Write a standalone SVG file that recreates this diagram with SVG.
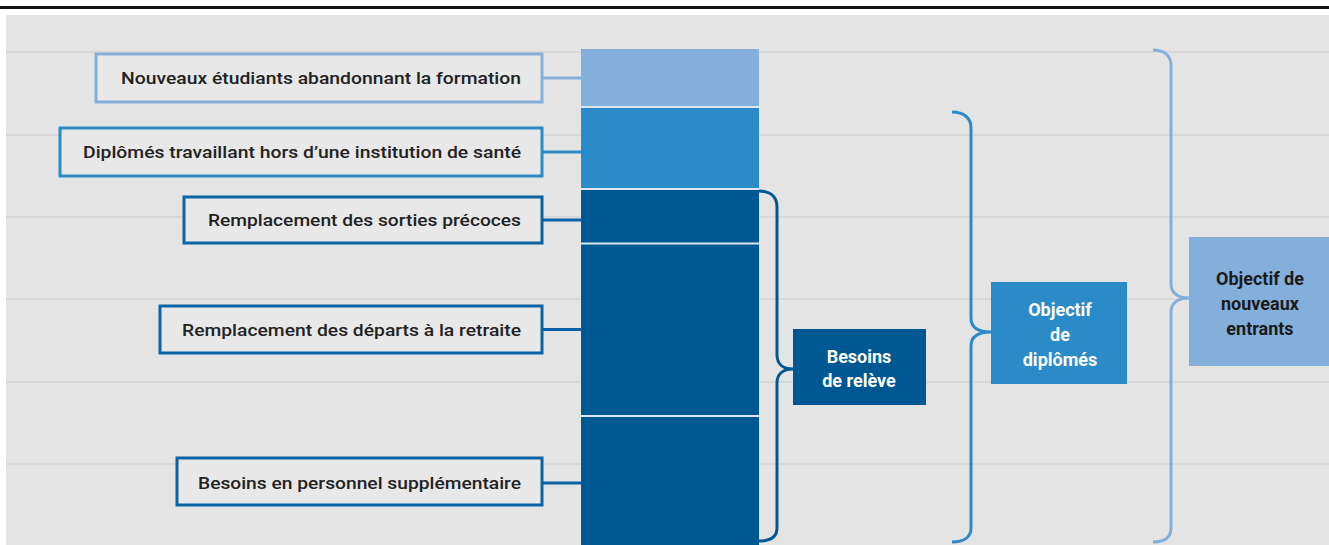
<svg xmlns="http://www.w3.org/2000/svg" width="1329" height="545" viewBox="0 0 1329 545">
<defs>
<style>
.grid{stroke:#d8d8d8;stroke-width:2;fill:none}
.lbl{fill:#e8e8e8;stroke-width:3}
.lt{font-family:Roboto,"Liberation Sans",sans-serif;font-size:17px;font-weight:500;fill:#222;text-anchor:end}
.rt{font-family:Roboto,"Liberation Sans",sans-serif;font-size:18px;font-weight:700;text-anchor:middle}
.con{fill:none;stroke-width:3}
.c1{stroke:#85afdb}
.c2{stroke:#2b8bc8}
.c3{stroke:#0a63a6}
.sep{stroke:#dde5ee;stroke-width:2}
</style>
</defs>
<rect x="0" y="0" width="1329" height="545" fill="#ffffff"/>
<rect x="0" y="6" width="1329" height="3" fill="#111111"/>
<rect x="6" y="15" width="1323" height="530" fill="#e4e4e4"/>
<g id="grid">
<line class="grid" x1="6" y1="52" x2="1329" y2="52"/>
<line class="grid" x1="6" y1="135" x2="1329" y2="135"/>
<line class="grid" x1="6" y1="217" x2="1329" y2="217"/>
<line class="grid" x1="6" y1="299" x2="1329" y2="299"/>
<line class="grid" x1="6" y1="382" x2="1329" y2="382"/>
<line class="grid" x1="6" y1="464" x2="1329" y2="464"/>
</g>
<g id="bar">
<rect x="581" y="49" width="178" height="58" fill="#85afdb"/>
<rect x="581" y="107" width="178" height="82" fill="#2b8bc8"/>
<rect x="581" y="189" width="178" height="356" fill="#005893"/>
<line class="sep" x1="581" y1="107" x2="759" y2="107"/>
<line class="sep" x1="581" y1="189" x2="759" y2="189"/>
<line class="sep" x1="581" y1="243.5" x2="759" y2="243.5"/>
<line class="sep" x1="581" y1="416" x2="759" y2="416"/>
</g>
<g id="connectors">
<line class="con c1" x1="542" y1="78" x2="581" y2="78"/>
<line class="con c2" x1="542" y1="152" x2="581" y2="152"/>
<line class="con c3" x1="542" y1="220" x2="581" y2="220"/>
<line class="con c3" x1="542" y1="329.5" x2="581" y2="329.5"/>
<line class="con c3" x1="542" y1="483" x2="581" y2="483"/>
<path class="con" stroke="#005893" d="M759,191 C771,191 777,197 777,207 L777,355 C777,364 783,369 793,369 C783,369 777,374 777,383 L777,528 C777,537 771,541 759,541"/>
<path class="con c2" d="M952,112 C964,112 971,118 971,128 L971,318 C971,327 978,332 991,332 C978,332 971,337 971,346 L971,528 C971,537 964,542 952,542"/>
<path class="con c1" d="M1153,50 C1165,50 1171,56 1171,66 L1171,284 C1171,293 1178,298 1189,298 C1178,298 1171,303 1171,312 L1171,528 C1171,537 1165,542 1153,542"/>
</g>
<g id="n-abandon">
<rect class="lbl c1" x="96" y="54" width="446" height="48"/>
<text class="lt" x="521" y="84" textLength="400" lengthAdjust="spacingAndGlyphs">Nouveaux étudiants abandonnant la formation</text>
</g>
<g id="n-hors">
<rect class="lbl c2" x="60" y="128" width="482" height="48"/>
<text class="lt" x="521" y="158" textLength="438" lengthAdjust="spacingAndGlyphs">Diplômés travaillant hors d’une institution de santé</text>
</g>
<g id="n-sorties">
<rect class="lbl c3" x="184" y="197" width="358" height="46"/>
<text class="lt" x="521" y="226" textLength="313" lengthAdjust="spacingAndGlyphs">Remplacement des sorties précoces</text>
</g>
<g id="n-retraite">
<rect class="lbl c3" x="160" y="306" width="382" height="47"/>
<text class="lt" x="521" y="335.5" textLength="339" lengthAdjust="spacingAndGlyphs">Remplacement des départs à la retraite</text>
</g>
<g id="n-supp">
<rect class="lbl c3" x="177" y="458" width="365" height="47"/>
<text class="lt" x="521" y="489" textLength="323" lengthAdjust="spacingAndGlyphs">Besoins en personnel supplémentaire</text>
</g>
<g id="n-releve">
<rect x="793" y="329" width="133" height="76" fill="#005893"/>
<text class="rt" fill="#ffffff"><tspan x="859" y="363">Besoins</tspan><tspan x="859" y="387">de relève</tspan></text>
</g>
<g id="n-diplomes">
<rect x="991" y="282" width="136" height="102" fill="#2b8bc8"/>
<text class="rt" fill="#ffffff"><tspan x="1060" y="315.5">Objectif</tspan><tspan x="1060" y="340.5">de</tspan><tspan x="1060" y="366">diplômés</tspan></text>
</g>
<g id="n-entrants">
<rect x="1189" y="237" width="140" height="129" fill="#85afdb"/>
<text class="rt" fill="#1a1a1a"><tspan x="1260" y="284.5">Objectif de</tspan><tspan x="1260" y="309.5">nouveaux</tspan><tspan x="1260" y="334.5">entrants</tspan></text>
</g>
</svg>
